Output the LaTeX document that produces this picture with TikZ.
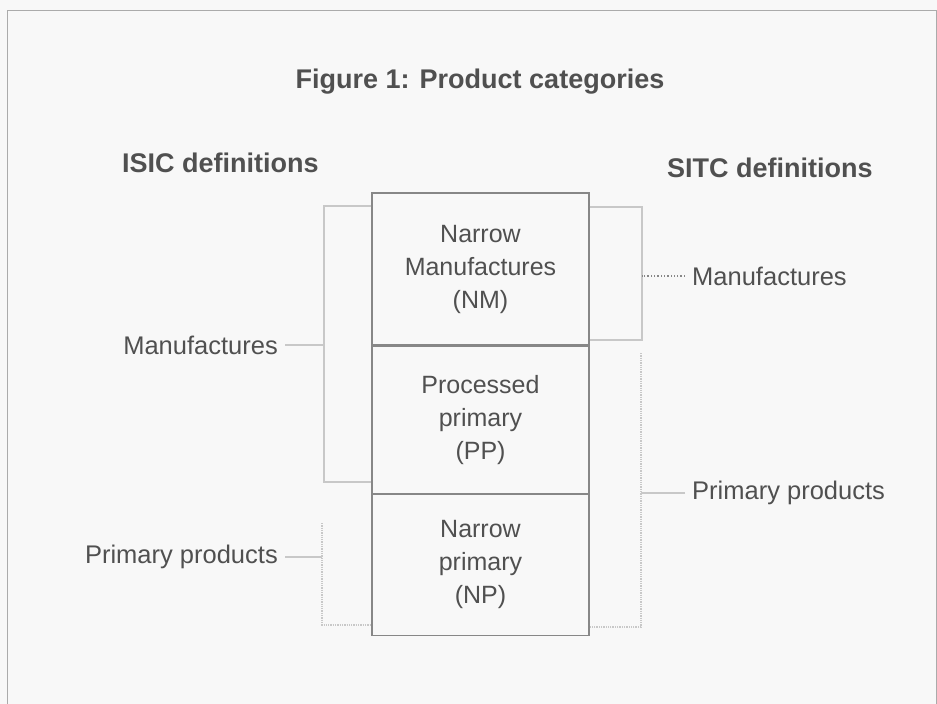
\documentclass[tikz,border=0pt]{standalone}
\usepackage{fontspec}
\setmainfont{Liberation Sans}
\usetikzlibrary{positioning}
\definecolor{paper}{RGB}{248,248,248}
\definecolor{ink}{RGB}{80,80,80}
\definecolor{rule}{RGB}{135,135,135}
\definecolor{faint}{RGB}{200,200,200}
\tikzset{
  cell/.style={draw=rule, line width=1.2pt, minimum width=217pt, text width=200pt,
    align=center, inner sep=0pt, font=\fontsize{25}{33}\selectfont, text=ink},
  label/.style={font=\fontsize{25.5}{30}\selectfont, text=ink, inner xsep=7pt, inner ysep=0pt},
  heading/.style={font=\bfseries\fontsize{27}{30}\selectfont, text=ink, inner sep=0pt},
  brace/.style={draw=faint, line width=1.3pt},
  stub/.style={draw=faint, line width=1.3pt}
}
\begin{document}
\begin{tikzpicture}[x=1pt, y=-1pt]
		\useasboundingbox (0,0) rectangle (937,704);
		\fill[paper] (0,0) rectangle (937,704);
		\clip (0,0) rectangle (937,704);
		%frame
		\draw[rule!70, line width=1pt] (7,720) -- (7,10) -- (936,10) -- (936,720);
		
		\node[heading] (title) at (480,82){Figure 1: Product categories};
		\node[heading, anchor=west] (isic) at (122,163){ISIC definitions};
		\node[heading, anchor=west] (sitc) at (667,168){SITC definitions};
		
		%the three categories
		\node[cell, minimum height=152pt] (nm) at (480.5,269){Narrow\\Manufactures\\(NM)};
		\node[cell, minimum height=147pt, below=0pt of nm] (pp){Processed\\primary\\(PP)};
		\node[cell, minimum height=141pt, below=0pt of pp] (np){Narrow\\primary\\(NP)};
		
		%ISIC side
		\node[label, anchor=east] (lman) at (285,345){Manufactures};
		\node[label, anchor=east] (lprim) at (285,557){Primary products};
		\coordinate (lmbar) at (324,345);
		\coordinate (lpbar) at (322,557);
		\draw[brace] (nm.west |- 0,206) -| (324,482) -- (pp.west |- 0,482);
		\draw[brace, densely dotted] (322,523) -- (322,625) -- (np.west |- 0,625);
		\draw[stub] (lman.east) -- (lmbar);
		\draw[stub] (lprim.east) -- (lpbar);
		
		%SITC side
		\node[label, anchor=west] (rman) at (685,276){Manufactures};
		\node[label, anchor=west] (rprim) at (685,493){Primary products};
		\coordinate (rmbar) at (642,276);
		\coordinate (rpbar) at (641,493);
		\draw[brace] (nm.east |- 0,207) -| (642,340) -- (nm.east |- 0,340);
		\draw[brace, densely dotted] (641,353) -- (641,627) -- (np.east |- 0,627);
		\draw[stub, dotted, draw=rule] (rman.west) -- (rmbar);
		\draw[stub] (rprim.west) -- (rpbar);
		\end{tikzpicture}
\end{document}
